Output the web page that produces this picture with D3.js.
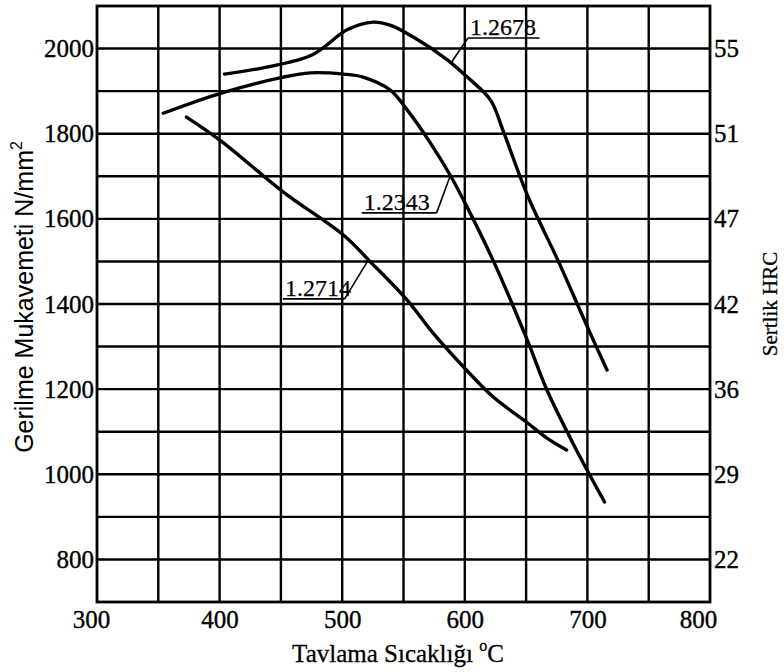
<!DOCTYPE html>
<html>
<head>
<meta charset="utf-8">
<script src="https://cdn.jsdelivr.net/npm/d3@7"></script>
<style>
  body { margin: 0; background: #fff; }
  svg { display: block; }
</style>
</head>
<body>
<script>
var width = 784;
var height = 672;
var margin = { top: 6, bottom: 70, right: 74, left: 97 };

// temperature (°C) and tensile strength (N/mm2)
var t2678 = [404, 474, 504, 525, 539, 558, 586, 602, 621, 631, 651, 677, 700, 716];
var s2678 = [1940, 1983, 2044, 2062, 2055, 2027, 1973, 1933, 1879, 1809, 1656, 1496, 1346, 1245];
var t2343 = [354, 402, 452, 474, 501, 517, 539, 553, 572, 588, 599, 623, 651, 667, 688, 701, 714];
var s2343 = [1848, 1896, 1933, 1943, 1940, 1933, 1903, 1856, 1778, 1703, 1644, 1503, 1315, 1198, 1074, 1003, 935];
var t2714 = [373, 402, 452, 501, 523, 553, 574, 599, 623, 651, 667, 683];
var s2714 = [1839, 1781, 1663, 1562, 1499, 1409, 1332, 1252, 1182, 1121, 1085, 1057];

var xTicks = [300, 400, 500, 600, 700, 800];
var yTicks = [800, 1000, 1200, 1400, 1600, 1800, 2000];
var hrcLabels = ["22", "29", "36", "42", "47", "51", "55"];

// label boxes: underline from x0 to x1 at strength y, leader to (tx, ty)
var labels = [
  { name: "1.2678", x0: 602.6, x1: 661, y: 2025, tx: 588.7, ty: 1966 },
  { name: "1.2343", x0: 516, x1: 577, y: 1614, tx: 588, ty: 1700 },
  { name: "1.2714", x0: 451.7, x1: 502, y: 1412, tx: 521, ty: 1502 }
];

var svg = d3
  .select("body")
  .append("svg")
  .attr("width", width)
  .attr("height", height);

var xScale = d3
  .scaleLinear()
  .domain([300, 800])
  .range([margin.left, width - margin.right]);

var yScale = d3
  .scaleLinear()
  .domain([700, 2100])
  .range([height - margin.bottom, margin.top]);

// grid
var grid = svg.append("g").attr("stroke", "#000").attr("stroke-width", 2.4);
grid
  .selectAll("line.v")
  .data(d3.range(350, 800, 50))
  .join("line")
  .attr("class", "v")
  .attr("x1", (d) => xScale(d))
  .attr("x2", (d) => xScale(d))
  .attr("y1", yScale(2100))
  .attr("y2", yScale(700));
grid
  .selectAll("line.h")
  .data(d3.range(800, 2100, 100))
  .join("line")
  .attr("class", "h")
  .attr("x1", xScale(300))
  .attr("x2", xScale(800))
  .attr("y1", (d) => yScale(d))
  .attr("y2", (d) => yScale(d));

svg
  .append("rect")
  .attr("x", xScale(300))
  .attr("y", yScale(2100))
  .attr("width", xScale(800) - xScale(300))
  .attr("height", yScale(700) - yScale(2100))
  .attr("fill", "none")
  .attr("stroke", "#000")
  .attr("stroke-width", 2.8);

// axes (labels only)
var serif = "'Liberation Serif', 'Times New Roman', serif";

function styleTicks(g) {
  g.select(".domain").remove();
  g.selectAll("text")
    .attr("font-family", serif)
    .attr("font-size", "25px")
    .attr("fill", "#000")
    .attr("stroke", "#000")
    .attr("stroke-width", 0.35);
}

var axisx = d3.axisBottom(xScale).tickValues(xTicks).tickSize(0).tickPadding(8);
var gx = svg
  .append("g")
  .attr("transform", "translate(0," + (height - margin.bottom) + ")")
  .call(axisx)
  .call(styleTicks);
gx.selectAll("text").attr("dx", (d) => (d == 300 ? -6 : d == 800 ? -12 : 0));

var axisy = d3
  .axisLeft(yScale)
  .tickValues(yTicks)
  .tickFormat(d3.format("d"))
  .tickSize(0)
  .tickPadding(3);
svg
  .append("g")
  .attr("transform", "translate(" + margin.left + ",0)")
  .call(axisy)
  .call(styleTicks);

var axisr = d3
  .axisRight(yScale)
  .tickValues(yTicks)
  .tickFormat((d, i) => hrcLabels[i])
  .tickSize(0)
  .tickPadding(4);
svg
  .append("g")
  .attr("transform", "translate(" + (width - margin.right) + ",0)")
  .call(axisr)
  .call(styleTicks);

// titles
var ylab = svg
  .append("text")
  .attr("transform", "translate(33," + 297 + ") rotate(-90)")
  .attr("text-anchor", "middle")
  .attr("font-family", "'Liberation Sans', Arial, sans-serif")
  .attr("font-size", "25px")
  .attr("fill", "#000");
ylab.append("tspan").text("Gerilme Mukavemeti N/mm");
ylab.append("tspan").attr("dy", -11).attr("font-size", "16px").text("2");

var xlab = svg
  .append("text")
  .attr("x", 398)
  .attr("y", 662)
  .attr("text-anchor", "middle")
  .attr("font-family", serif)
  .attr("font-size", "25px")
  .attr("fill", "#000")
  .attr("stroke", "#000")
  .attr("stroke-width", 0.3);
xlab.append("tspan").text("Tavlama Sıcaklığı ");
xlab.append("tspan").attr("dy", -11).attr("font-size", "16px").text("o");
xlab.append("tspan").attr("dy", 11).text("C");

svg
  .append("text")
  .attr("transform", "translate(777,304) rotate(-90)")
  .attr("text-anchor", "middle")
  .attr("font-family", serif)
  .attr("font-size", "21px")
  .attr("fill", "#000")
  .attr("stroke", "#000")
  .attr("stroke-width", 0.3)
  .text("Sertlik HRC");

// curves
var line = d3
  .line()
  .x((d) => xScale(d[0]))
  .y((d) => yScale(d[1]))
  .curve(d3.curveCatmullRom.alpha(0.5));

[
  [t2678, s2678],
  [t2343, s2343],
  [t2714, s2714]
].forEach(function (s) {
  svg
    .append("path")
    .datum(d3.zip(s[0], s[1]))
    .attr("fill", "none")
    .attr("stroke", "#000")
    .attr("stroke-width", 3.4)
    .attr("stroke-linecap", "round")
    .attr("d", line);
});

// curve labels
labels.forEach(function (l) {
  var g = svg.append("g").attr("stroke", "#000").attr("stroke-width", 1.6);
  g.append("line")
    .attr("x1", xScale(l.x0))
    .attr("x2", xScale(l.x1))
    .attr("y1", yScale(l.y))
    .attr("y2", yScale(l.y));
  var lx = l.tx < l.x0 ? l.x0 : l.x1;
  g.append("line")
    .attr("x1", xScale(lx))
    .attr("y1", yScale(l.y))
    .attr("x2", xScale(l.tx))
    .attr("y2", yScale(l.ty));
  svg
    .append("text")
    .attr("x", xScale(l.x0) + 2)
    .attr("y", yScale(l.y) - 3)
    .attr("font-family", serif)
    .attr("font-size", "24px")
    .attr("fill", "#000")
    .attr("stroke", "#000")
    .attr("stroke-width", 0.25)
    .text(l.name);
});
</script>
</body>
</html>
